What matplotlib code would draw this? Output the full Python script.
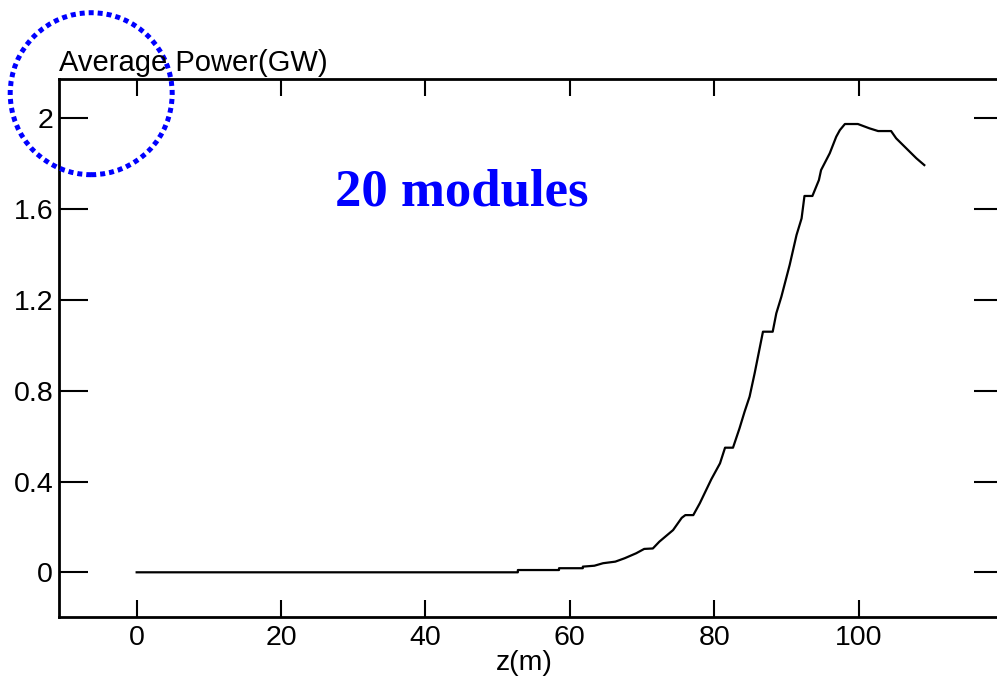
import matplotlib
matplotlib.use("Agg")
import matplotlib.pyplot as plt
from matplotlib.patches import Ellipse

plt.rcParams['font.family'] = ['Liberation Sans', 'DejaVu Sans']

# Average power along the undulator line
z_m = [0, 52.8, 52.8, 58.5, 58.5, 61.8, 61.8, 63.4, 64.6, 66.3, 67.6, 69.2,
       70.3, 71.5, 72.4, 74.3, 75.5, 76.0, 77.1, 78.0, 79.6, 80.8, 81.5, 82.6,
       83.5, 84.2, 84.9, 85.6, 86.75, 88.1, 88.6, 89.3, 90.45, 91.4, 92.1,
       92.5, 93.6, 94.5, 94.8, 96.0, 96.9, 97.4, 98.1, 99.9, 101.5, 102.7,
       104.5, 105.2, 106.6, 108.0, 109.1]
power_gw = [0, 0, 0.01, 0.01, 0.018, 0.018, 0.025, 0.029, 0.04, 0.047, 0.062,
            0.084, 0.103, 0.105, 0.135, 0.186, 0.24, 0.252, 0.252, 0.304, 0.41,
            0.48, 0.549, 0.549, 0.634, 0.707, 0.774, 0.877, 1.06, 1.06, 1.141,
            1.214, 1.354, 1.486, 1.559, 1.658, 1.658, 1.728, 1.772, 1.846,
            1.919, 1.948, 1.975, 1.975, 1.956, 1.944, 1.944, 1.912, 1.868,
            1.824, 1.794]

x_ticks = [0, 20, 40, 60, 80, 100]
y_ticks = [0, 0.4, 0.8, 1.2, 1.6, 2.0]
y_tick_labels = ["0", "0.4", "0.8", "1.2", "1.6", "2"]

W, H = 997, 685
fig = plt.figure(figsize=(W / 100, H / 100), dpi=100)
ax_left, ax_right, ax_top, ax_bottom = 58.7, 1003, 79.3, 616.7
ax = fig.add_axes([ax_left / W, (H - ax_bottom) / H,
                   (ax_right - ax_left) / W, (ax_bottom - ax_top) / H])

ax.plot(z_m, power_gw, color="black", lw=1.6)

ax.set_xlim(-10.8, 120)
ax.set_ylim(-0.1956, 2.172)
ax.set_xticks(x_ticks)
ax.set_yticks(y_ticks)
ax.set_yticklabels(y_tick_labels)

for side in ("left", "top", "bottom"):
    ax.spines[side].set_linewidth(2.0)
ax.spines["right"].set_visible(False)

ax.tick_params(axis="x", direction="in", length=12, width=1.5, top=True,
               labelsize=20.5, pad=6)
ax.tick_params(axis="y", direction="in", length=21, width=1.5, right=True,
               labelsize=20.5, pad=4)

ax.set_xlabel("z(m)", fontsize=20.5)
ax.xaxis.set_label_coords((524 - ax_left) / (ax_right - ax_left),
                          -(676 - ax_bottom) / (ax_bottom - ax_top))
ax.xaxis.label.set_va("bottom")
fig.text(59 / W, (H - 70.7) / H, "Average Power(GW)", fontsize=21,
         ha="left", va="baseline")

fig.text(462 / W, (H - 205) / H, "20 modules", color="#0000ff",
         fontsize=38, fontweight="bold", family=["Liberation Serif"],
         ha="center", va="baseline")

# Dotted circle highlighting the top of the power axis
ring = Ellipse((91.2 / W, (H - 93.7) / H), 2 * 81 / W, 2 * 81 / H,
               transform=fig.transFigure, fill=False, edgecolor="#0000ff",
               lw=3.6, linestyle=(0, (1, 0.8)), clip_on=False)
ring.set_capstyle("butt")
fig.add_artist(ring)

fig.savefig("out.png", dpi=100)
